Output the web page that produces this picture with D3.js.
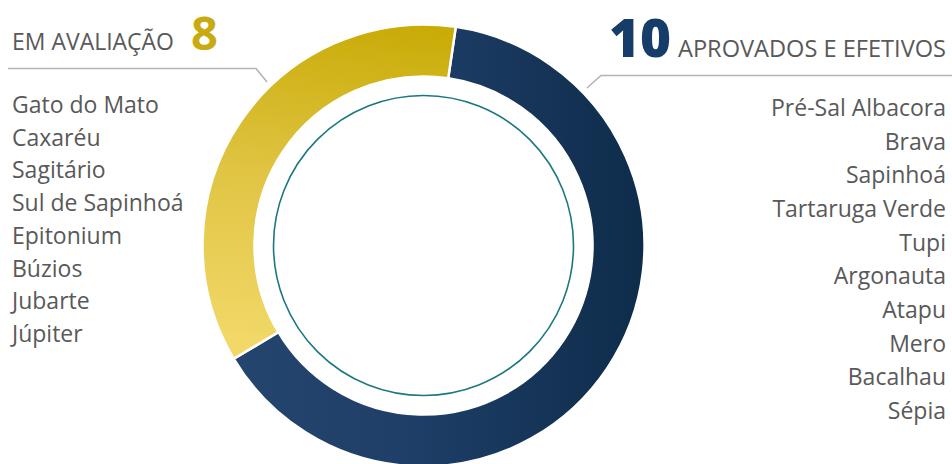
<!DOCTYPE html>
<html>
<head>
<meta charset="utf-8">
<script src="https://cdn.jsdelivr.net/npm/d3@7"></script>
<style>
    body { margin: 0; background: #ffffff; }
    svg { display: block; }
    text { font-family: 'Open Sans', 'DejaVu Sans', sans-serif; }
</style>
</head>
<body>
<svg id="chart" width="952" height="464"></svg>
<script>
// groups shown in the ring, clockwise from the top
const groups = ['APROVADOS E EFETIVOS', 'EM AVALIAÇÃO'];
const counts = [10, 8];
// share of the ring each group takes in the picture (percent)
const ringShares = [64.1, 35.9];
const ringStartDeg = 8.4;

const approvedFields = ['Pré-Sal Albacora', 'Brava', 'Sapinhoá', 'Tartaruga Verde', 'Tupi',
    'Argonauta', 'Atapu', 'Mero', 'Bacalhau', 'Sépia'];
const reviewFields = ['Gato do Mato', 'Caxaréu', 'Sagitário', 'Sul de Sapinhoá', 'Epitonium',
    'Búzios', 'Jubarte', 'Júpiter'];

const svg = d3.select('#chart');
const cx = 423.5, cy = 245.5;
const outerR = 221, innerR = 169;
const textGray = '#595959';
const lineGray = '#b3b3b3';

// gradients (coordinates relative to the ring centre)
const defs = svg.append('defs');
const blueGrad = defs.append('linearGradient')
    .attr('id', 'blueGrad')
    .attr('gradientUnits', 'userSpaceOnUse')
    .attr('x1', -outerR).attr('y1', 0)
    .attr('x2', outerR).attr('y2', 0);
blueGrad.append('stop').attr('offset', '0%').attr('stop-color', '#25466f');
blueGrad.append('stop').attr('offset', '45%').attr('stop-color', '#1f3f69');
blueGrad.append('stop').attr('offset', '100%').attr('stop-color', '#0e2c4a');

const yellowGrad = defs.append('linearGradient')
    .attr('id', 'yellowGrad')
    .attr('gradientUnits', 'userSpaceOnUse')
    .attr('x1', 0).attr('y1', -outerR)
    .attr('x2', -40).attr('y2', 110);
yellowGrad.append('stop').attr('offset', '0%').attr('stop-color', '#c8ab05');
yellowGrad.append('stop').attr('offset', '50%').attr('stop-color', '#e0c443');
yellowGrad.append('stop').attr('offset', '100%').attr('stop-color', '#f1d867');

const fills = ['url(#blueGrad)', 'url(#yellowGrad)'];

const pie = d3.pie()
    .sort(null)
    .value((d, i) => ringShares[i])
    .startAngle(ringStartDeg * Math.PI / 180)
    .endAngle(ringStartDeg * Math.PI / 180 + 2 * Math.PI);

const arc = d3.arc().innerRadius(innerR).outerRadius(outerR);

const ring = svg.append('g').attr('transform', 'translate(' + cx + ',' + cy + ')');
ring.selectAll('path')
    .data(pie(groups))
    .join('path')
    .attr('d', arc)
    .attr('fill', (d, i) => fills[i])
    .attr('stroke', '#ffffff')
    .attr('stroke-width', 2.5);

// thin inner circle
ring.append('circle')
    .attr('r', 150)
    .attr('fill', 'none')
    .attr('stroke', '#1c7880')
    .attr('stroke-width', 1.6);

// leader lines
const line = d3.line();
svg.append('path')
    .attr('d', line([[8, 68.5], [256, 68.5], [267, 82]]))
    .attr('fill', 'none').attr('stroke', lineGray).attr('stroke-width', 1.6);
svg.append('path')
    .attr('d', line([[952, 75.5], [601, 75.5], [587, 88]]))
    .attr('fill', 'none').attr('stroke', lineGray).attr('stroke-width', 1.6);

// left header
svg.append('text')
    .attr('x', 12).attr('y', 50)
    .attr('font-size', 23)
    .attr('fill', textGray)
    .attr('textLength', 162).attr('lengthAdjust', 'spacingAndGlyphs')
    .text(groups[1]);
svg.append('text')
    .attr('x', 191).attr('y', 50)
    .attr('font-size', 47)
    .attr('font-weight', 700)
    .attr('fill', '#c8ab10')
    .text(counts[1]);

// right header
svg.append('text')
    .attr('x', 946).attr('y', 57)
    .attr('text-anchor', 'end')
    .attr('font-size', 24)
    .attr('fill', textGray)
    .attr('textLength', 268).attr('lengthAdjust', 'spacingAndGlyphs')
    .text(groups[0]);
svg.append('text')
    .attr('x', 671).attr('y', 57)
    .attr('text-anchor', 'end')
    .attr('font-size', 53)
    .attr('font-weight', 800)
    .attr('fill', '#163d69')
    .text(counts[0]);

// field lists
const leftY = d3.scalePoint().domain(reviewFields).range([113, 342]);
svg.append('g').selectAll('text')
    .data(reviewFields)
    .join('text')
    .attr('x', 12)
    .attr('y', d => leftY(d))
    .attr('font-size', 23)
    .attr('fill', textGray)
    .text(d => d);

const rightY = d3.scalePoint().domain(approvedFields).range([116, 419]);
svg.append('g').selectAll('text')
    .data(approvedFields)
    .join('text')
    .attr('x', 946)
    .attr('y', d => rightY(d))
    .attr('text-anchor', 'end')
    .attr('font-size', 23)
    .attr('fill', textGray)
    .text(d => d);
</script>
</body>
</html>
